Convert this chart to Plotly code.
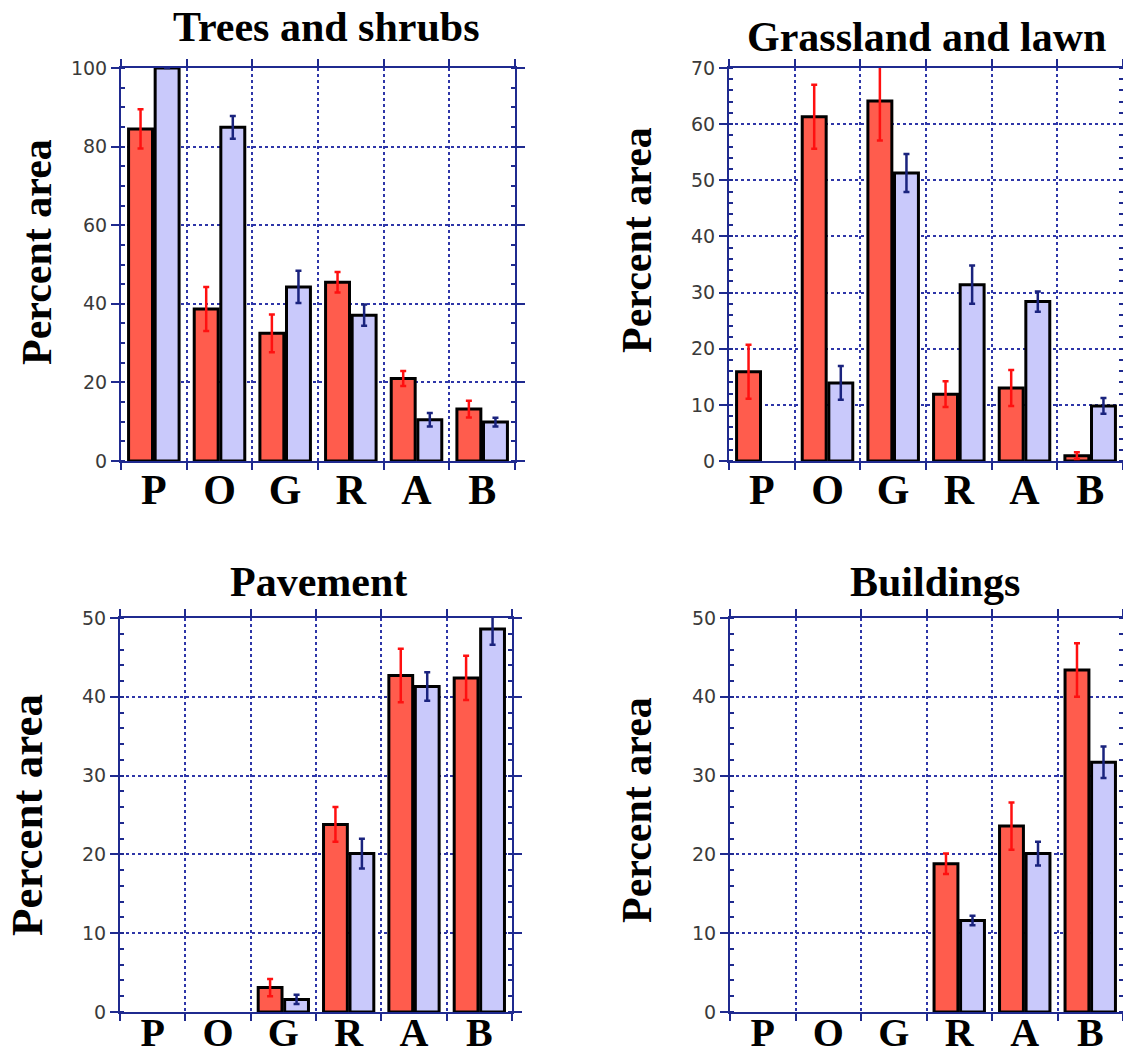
import plotly.graph_objects as go

W, H = 1123, 1059

categories = ["P", "O", "G", "R", "A", "B"]

# Trees and shrubs
trees_red = [84.5, 38.7, 32.5, 45.5, 21.0, 13.2]
trees_red_err = [5.0, 5.6, 4.8, 2.6, 1.9, 2.1]
trees_blue = [100.0, 84.9, 44.3, 37.1, 10.5, 9.9]
trees_blue_err = [None, 2.9, 4.1, 2.7, 1.7, 1.1]

# Grassland and lawn
grass_red = [15.9, 61.3, 64.1, 11.9, 13.0, 0.95]
grass_red_err = [4.8, 5.7, 7.0, 2.3, 3.2, 0.6]
grass_blue = [None, 13.9, 51.3, 31.4, 28.4, 9.8]
grass_blue_err = [None, 3.0, 3.4, 3.4, 1.8, 1.4]

# Pavement
pave_red = [None, None, 3.1, 23.8, 42.7, 42.4]
pave_red_err = [None, None, 1.1, 2.2, 3.4, 2.8]
pave_blue = [None, None, 1.6, 20.1, 41.3, 48.6]
pave_blue_err = [None, None, 0.6, 1.9, 1.8, 2.0]

# Buildings
build_red = [None, None, None, 18.8, 23.6, 43.4]
build_red_err = [None, None, None, 1.3, 3.0, 3.4]
build_blue = [None, None, None, 11.6, 20.1, 31.7]
build_blue_err = [None, None, None, 0.6, 1.5, 2.0]

titles = ["Trees and shrubs", "Grassland and lawn", "Pavement", "Buildings"]
y_title = "Percent area"
y_max = [100, 70, 50, 50]
y_dtick = [20, 10, 10, 10]
y_minor = [5, 2, 2, 2]

RED = "#ff5c4d"
BLUE = "#c9c9fb"
RED_ERR = "#ff1010"
BLUE_ERR = "#1a237e"
AXIS = "#1f2a8f"
GRID = "#2e36a8"

# plot-area pixel boxes (left, right, top, bottom)
boxes = [
    (121, 515, 68, 461),
    (729, 1123, 68, 461),
    (120, 512, 618, 1012),
    (730, 1123, 618, 1012),
]
label_standoff = [-9, -9, -16, -16]
label_size = [42, 42, 40, 40]

panels = [
    (trees_red, trees_red_err, trees_blue, trees_blue_err),
    (grass_red, grass_red_err, grass_blue, grass_blue_err),
    (pave_red, pave_red_err, pave_blue, pave_blue_err),
    (build_red, build_red_err, build_blue, build_blue_err),
]

fig = go.Figure()

for i, (r, re, b, be) in enumerate(panels):
    xa = "x" if i == 0 else f"x{i+1}"
    ya = "y" if i == 0 else f"y{i+1}"
    fig.add_trace(go.Bar(
        x=categories, y=r, xaxis=xa, yaxis=ya,
        marker=dict(color=RED, line=dict(color="black", width=3)),
        error_y=dict(type="data", array=re, visible=True, color=RED_ERR,
                     thickness=2.5, width=3),
        showlegend=False,
    ))
    fig.add_trace(go.Bar(
        x=categories, y=b, xaxis=xa, yaxis=ya,
        marker=dict(color=BLUE, line=dict(color="black", width=3)),
        error_y=dict(type="data", array=be, visible=True, color=BLUE_ERR,
                     thickness=2.5, width=3),
        showlegend=False,
    ))

layout = dict(
    width=W, height=H,
    margin=dict(l=0, r=0, t=0, b=0, autoexpand=False),
    paper_bgcolor="white", plot_bgcolor="white",
    barmode="group", bargap=0.19, bargroupgap=0.1,
    showlegend=False,
)

annotations = []
title_pos = [(326, 27), (926, 37), (318, 582), (935, 582)]
ytitle_pos = [(37, 252), (637, 240), (27, 815), (637, 810)]
ytitle_size = [42, 42, 45, 42]

for i, (l, rr, t, bt) in enumerate(boxes):
    sx = "" if i == 0 else str(i + 1)
    layout[f"xaxis{sx}"] = dict(
        domain=[l / W, rr / W], anchor=f"y{sx}",
        type="category", categoryorder="array", categoryarray=categories,
        range=[-0.5, 5.5], tickson="boundaries",
        showline=True, linecolor=AXIS, linewidth=2, mirror="allticks",
        ticks="outside", ticklen=7, tickwidth=2, tickcolor=AXIS,
        showgrid=True, gridcolor=GRID, gridwidth=1.5, griddash="dot",
        tickfont=dict(family="Liberation Serif", size=label_size[i], color="black", weight="bold"),
        ticklabelstandoff=label_standoff[i],
        automargin=False,
        fixedrange=True,
    )
    layout[f"yaxis{sx}"] = dict(
        domain=[1 - bt / H, 1 - t / H], anchor=f"x{sx}",
        range=[0, y_max[i]], dtick=y_dtick[i], tick0=0,
        showline=True, linecolor=AXIS, linewidth=2, mirror="allticks",
        ticks="outside", ticklen=8, tickwidth=2, tickcolor=AXIS,
        showgrid=True, gridcolor=GRID, gridwidth=1.5, griddash="dot",
        zeroline=False,
        minor=dict(dtick=y_minor[i], ticks="inside", ticklen=4, tickwidth=2,
                   tickcolor=AXIS, showgrid=False),
        tickfont=dict(family="DejaVu Sans", size=19, color="#3a3a3a"),
        automargin=False,
        fixedrange=True,
    )
    tx, ty = title_pos[i]
    annotations.append(dict(
        text=titles[i], x=tx / W, y=1 - ty / H, xref="paper", yref="paper",
        xanchor="center", yanchor="middle", showarrow=False,
        font=dict(family="Liberation Serif", size=42, color="black", weight="bold"),
    ))
    yx, yy = ytitle_pos[i]
    annotations.append(dict(
        text=y_title, x=yx / W, y=1 - yy / H, xref="paper", yref="paper",
        xanchor="center", yanchor="middle", showarrow=False, textangle=-90,
        font=dict(family="Liberation Serif", size=ytitle_size[i], color="black", weight="bold"),
    ))

layout["annotations"] = annotations
fig.update_layout(**layout)

fig.write_html("out.html", config={"displayModeBar": False},
               post_script="document.body.style.margin='0';")
